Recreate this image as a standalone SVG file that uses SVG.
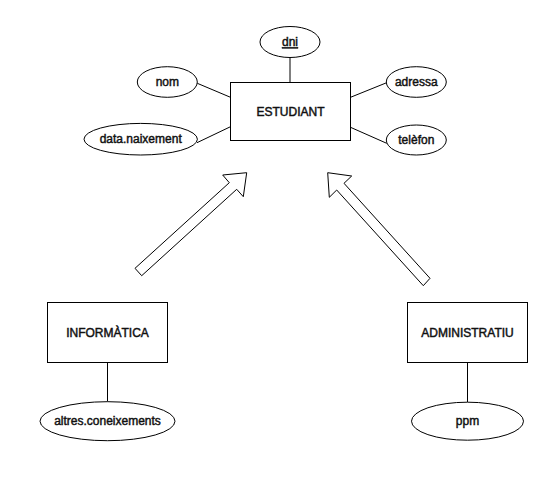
<svg xmlns="http://www.w3.org/2000/svg" width="556" height="488" viewBox="0 0 556 488">
  <style>
    .shape { fill: #fff; stroke: #000; stroke-width: 1; }
    .link { fill: none; stroke: #000; stroke-width: 1; }
    .isa { fill: #fff; stroke: #000; stroke-width: 1; stroke-linejoin: miter; }
    text { font-family: "Liberation Sans", Arial, sans-serif; font-size: 12px; fill: #111; text-anchor: middle; stroke: #111; stroke-width: 0.45; }
  </style>
  <rect width="556" height="488" fill="#fff"/>

  <!-- connectors between entities and attributes, plus the IS-A arrows -->
  <g id="connectors">
    <line class="link" x1="290" y1="57.5" x2="290" y2="82.5"/>
    <line class="link" x1="197.3" y1="83.3" x2="230.5" y2="97.3"/>
    <line class="link" x1="197" y1="142.7" x2="230.5" y2="126.7"/>
    <line class="link" x1="350.5" y1="97.3" x2="386.7" y2="82.7"/>
    <line class="link" x1="350.5" y1="127.3" x2="386.7" y2="143.3"/>
    <line class="link" x1="107.5" y1="362.5" x2="107.5" y2="401.5"/>
    <line class="link" x1="467.5" y1="362.5" x2="467.5" y2="402"/>
    <polygon class="isa" points="135,268.3 229.3,182.7 222.7,175 246.7,172.7 243.3,196.7 236.7,189.3 141.7,275.7"/>
    <polygon class="isa" points="430,278.3 344,183.3 351.7,176 327.7,172.7 329.3,197.3 336.7,190 423.3,285.7"/>
  </g>

  <g id="estudiant">
    <rect class="shape" x="230.5" y="82.5" width="120" height="58"/>
    <text x="290.5" y="115.8">ESTUDIANT</text>
  </g>
  <g id="dni">
    <ellipse class="shape" cx="290" cy="42" rx="30" ry="15.5"/>
    <text x="290" y="46.2" text-decoration="underline">dni</text>
  </g>
  <g id="nom">
    <ellipse class="shape" cx="167.3" cy="82" rx="30" ry="15.3"/>
    <text x="167.3" y="86.2">nom</text>
  </g>
  <g id="data-naixement">
    <ellipse class="shape" cx="140.7" cy="139.2" rx="56.7" ry="15.8"/>
    <text x="140.7" y="143.4">data.naixement</text>
  </g>
  <g id="adressa">
    <ellipse class="shape" cx="416.3" cy="82" rx="30" ry="15.3"/>
    <text x="416.3" y="86.2">adressa</text>
  </g>
  <g id="telefon">
    <ellipse class="shape" cx="416.3" cy="140" rx="30" ry="15"/>
    <text x="416.3" y="144.2">telèfon</text>
  </g>

  <g id="informatica">
    <rect class="shape" x="47.5" y="302.5" width="120" height="60"/>
    <text x="107.5" y="336.5">INFORMÀTICA</text>
  </g>
  <g id="altres-coneixements">
    <ellipse class="shape" cx="107.5" cy="421.2" rx="67.5" ry="19.5"/>
    <text x="107.5" y="425.4">altres.coneixements</text>
  </g>

  <g id="administratiu">
    <rect class="shape" x="407.5" y="302.5" width="120" height="60"/>
    <text x="467.5" y="336.5">ADMINISTRATIU</text>
  </g>
  <g id="ppm">
    <ellipse class="shape" cx="467.5" cy="421.2" rx="56" ry="19"/>
    <text x="467.5" y="425.4">ppm</text>
  </g>
</svg>
